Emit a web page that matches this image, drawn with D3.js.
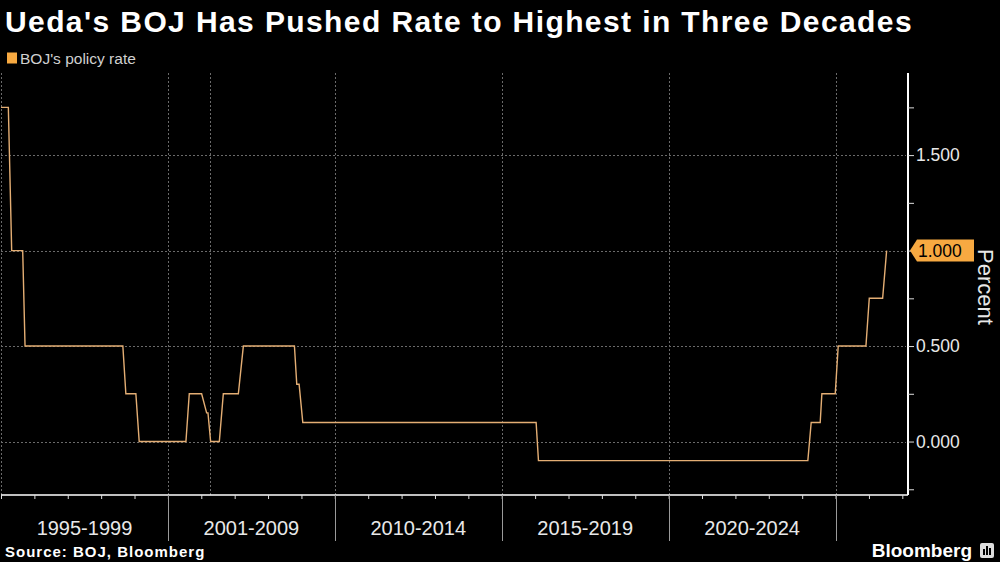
<!DOCTYPE html>
<html><head><meta charset="utf-8">
<script src="https://cdn.jsdelivr.net/npm/d3@7"></script>
<style>
html,body{margin:0;padding:0;background:#000;}
svg{display:block;}
</style></head>
<body>
<svg id="chart" width="1000" height="562"></svg>
<script>
// ---- data ----
const title = "Ueda's BOJ Has Pushed Rate to Highest in Three Decades";
const seriesName = "BOJ's policy rate";
// x positions are in axis units (one minor tick = 1 unit, one labelled period = 5 units)
const stepStart = [0, 0.32, 0.72, 3.74, 4.14, 5.64, 6.16, 6.28, 6.66, 7.26, 8.86, 9.04, 16.10, 24.27, 24.59, 25.08, 26.01, 26.53];
const stepEnd   = [0.22, 0.65, 3.65, 4.04, 5.54, 6.01, 6.20, 6.54, 7.11, 8.79, 8.93, 16.03, 24.17, 24.54, 24.99, 25.91, 26.41, 26.53];
const rateValues = [1.75, 1.0, 0.5, 0.25, 0, 0.25, 0.15, 0, 0.25, 0.5, 0.3, 0.1, -0.1, 0.1, 0.25, 0.5, 0.75, 1.0];
const periodLabels = ["1995-1999", "2001-2009", "2010-2014", "2015-2019", "2020-2024"];
const periodBounds = [0, 5, 10, 15, 20, 25];
const separatorX = [5, 10, 15, 20, 25];
const gridX = [0, 5, 6.25, 10, 15, 20, 25];
const yTicksMajor = [0, 0.5, 1.0, 1.5];
const yTicksMinor = [-0.25, 0.25, 0.75, 1.25, 1.75];
const lastValue = 1.0;

// ---- layout ----
const svg = d3.select("#chart");
const W = 1000, H = 562;
const plotLeft = 1, plotRight = 908, plotTop = 73, plotBottom = 495;
const x = d3.scaleLinear().domain([0, 27.17]).range([plotLeft, plotRight]);
const y = d3.scaleLinear().domain([-0.28, 1.93]).range([plotBottom, plotTop]);
const FONT = "Liberation Sans, Arial, sans-serif";

svg.append("rect").attr("width", W).attr("height", H).attr("fill", "#000");

// title
svg.append("text").attr("x", 5).attr("y", 32)
  .attr("font-family", FONT).attr("font-weight", "bold")
  .attr("font-size", 30).attr("letter-spacing", 1.4).attr("fill", "#fff").text(title);

// legend
svg.append("rect").attr("x", 7).attr("y", 52.5).attr("width", 10).attr("height", 11).attr("fill", "#f7a941");
svg.append("text").attr("x", 20).attr("y", 63.5)
  .attr("font-family", FONT).attr("font-size", 15.5)
  .attr("fill", "#d0d0d0").text(seriesName);

// gridlines
const grid = svg.append("g");
grid.selectAll("line.hg").data(yTicksMajor).join("line")
  .attr("x1", plotLeft).attr("x2", plotRight - 2)
  .attr("y1", d => Math.round(y(d)) + 0.5).attr("y2", d => Math.round(y(d)) + 0.5)
  .attr("stroke", "#6a6a6a").attr("stroke-width", 1).attr("stroke-dasharray", "2,2");
grid.selectAll("line.vg").data(gridX).join("line")
  .attr("x1", d => Math.round(x(d)) + 0.5).attr("x2", d => Math.round(x(d)) + 0.5)
  .attr("y1", plotTop).attr("y2", plotBottom)
  .attr("stroke", "#6a6a6a").attr("stroke-width", 1).attr("stroke-dasharray", "2,2");

// line
const pts = [];
rateValues.forEach((v, i) => {
  pts.push([stepStart[i], v]);
  if (stepEnd[i] !== stepStart[i]) pts.push([stepEnd[i], v]);
});
const line = d3.line().x(d => x(d[0])).y(d => y(d[1]));
svg.append("path").datum(pts).attr("d", line)
  .attr("fill", "none").attr("stroke", "#e4ae74").attr("stroke-width", 1.4)
  .attr("stroke-linejoin", "miter");

// bottom axis
const xAxis = d3.axisBottom(x).tickValues(d3.range(0, 28, 1)).tickSize(4).tickFormat("");
const gx = svg.append("g").attr("transform", `translate(0,${plotBottom})`).call(xAxis);
gx.select(".domain").attr("stroke", "#fff").attr("stroke-width", 1.5).attr("d", `M${plotLeft},0H${plotRight}`);
gx.selectAll(".tick line").attr("stroke", "#ddd");
svg.selectAll("line.sep").data(separatorX).join("line")
  .attr("x1", d => Math.round(x(d)) + 0.5).attr("x2", d => Math.round(x(d)) + 0.5)
  .attr("y1", plotBottom).attr("y2", 541)
  .attr("stroke", "#9a9a9a").attr("stroke-width", 1);
svg.selectAll("text.period").data(periodLabels).join("text")
  .attr("x", (d, i) => (x(periodBounds[i]) + x(periodBounds[i + 1])) / 2)
  .attr("y", 535).attr("text-anchor", "middle")
  .attr("font-family", FONT).attr("font-size", 20)
  .attr("fill", "#e8e8e8").text(d => d);

// right axis
const yAxis = d3.axisRight(y).tickValues(yTicksMajor.concat(yTicksMinor)).tickSize(6).tickFormat("");
const gy = svg.append("g").attr("transform", `translate(${plotRight},0)`).call(yAxis);
gy.select(".domain").attr("stroke", "#fff").attr("stroke-width", 2).attr("d", `M0,${plotTop}V${plotBottom}`);
gy.selectAll(".tick line").attr("stroke", "#ddd");
svg.selectAll("text.ylab").data(yTicksMajor.filter(d => d !== lastValue)).join("text")
  .attr("x", 916).attr("y", d => y(d)).attr("dy", "0.36em")
  .attr("font-family", FONT).attr("font-size", 17.5)
  .attr("fill", "#e8e8e8").text(d => d3.format(".3f")(d));

// last value label
const ly = y(lastValue);
svg.append("path")
  .attr("d", `M910,${ly} L917,${ly - 11} H974 V${ly + 11} H917 Z`)
  .attr("fill", "#f7a941");
svg.append("text").attr("x", 918).attr("y", ly).attr("dy", "0.36em")
  .attr("font-family", FONT).attr("font-size", 17.5)
  .attr("fill", "#000").text(d3.format(".3f")(lastValue));

// axis title
svg.append("text").attr("transform", "translate(978,287) rotate(90)")
  .attr("text-anchor", "middle")
  .attr("font-family", FONT).attr("font-size", 22)
  .attr("fill", "#e8e8e8").text("Percent");

// footer
svg.append("text").attr("x", 5).attr("y", 557)
  .attr("font-family", FONT).attr("font-weight", "bold")
  .attr("font-size", 15).attr("letter-spacing", 1).attr("fill", "#fff").text("Source: BOJ, Bloomberg");
svg.append("text").attr("x", 972).attr("y", 557).attr("text-anchor", "end")
  .attr("font-family", FONT).attr("font-weight", "bold")
  .attr("font-size", 19).attr("fill", "#fff").text("Bloomberg");
const logo = svg.append("g").attr("transform", "translate(980,543)");
logo.append("rect").attr("width", 14).attr("height", 15).attr("rx", 2).attr("fill", "#ddd");
logo.selectAll("rect.bar").data([[3, 6], [6, 3], [9, 5]]).join("rect")
  .attr("x", d => d[0]).attr("y", d => d[1]).attr("width", 2).attr("height", d => 12 - d[1])
  .attr("fill", "#000");
</script>
</body></html>
